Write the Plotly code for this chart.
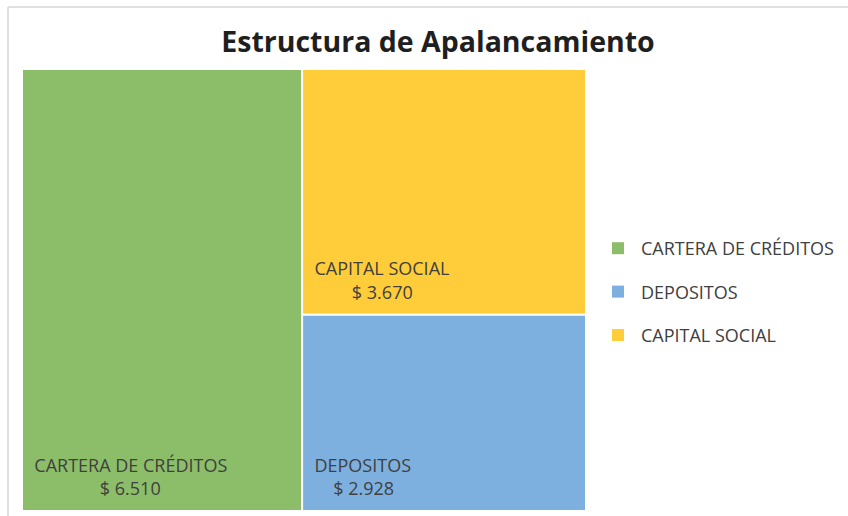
import plotly.graph_objects as go

# ---- data ----
categories = ["CARTERA DE CRÉDITOS", "DEPOSITOS", "CAPITAL SOCIAL"]
values = [6510, 2928, 3670]
title_text = "Estructura de Apalancamiento"

# ---- style ----
colors = ["#8cbe69", "#7db0df", "#ffcd3a"]
value_indent = {"CARTERA DE CRÉDITOS": 14, "DEPOSITOS": 4, "CAPITAL SOCIAL": 8}  # nbsp count

W, H = 848, 516
FONT = "Open Sans, Segoe UI, sans-serif"
TXT = "#404040"
FS = 18
NB = "\u00a0"


def template(label):
    return (NB * 2 + "%{label}<br>" + NB * (value_indent[label] + 2)
            + "$ %{value:,}" + '<span style="font-size:44px">' + NB + "</span>")


fig = go.Figure()
fig.add_trace(go.Treemap(
    labels=categories,
    parents=[""] * len(categories),
    values=values,
    sort=True,
    tiling=dict(packing="squarify", pad=0),
    marker=dict(colors=colors, line=dict(color="white", width=2),
                pad=dict(t=0, l=0, r=0, b=0)),
    pathbar=dict(visible=False),
    textposition="bottom left",
    texttemplate=[template(c) for c in categories],
    textfont=dict(family=FONT, size=FS, color=TXT),
    insidetextfont=dict(family=FONT, size=FS, color=TXT),
    hoverinfo="label+value",
    domain=dict(x=[22 / W, 586 / W], y=[1 - 511 / H, 1 - 69 / H]),
))

# legend entries
for i, (c, col) in enumerate(zip(categories, colors)):
    fig.add_trace(go.Scatter(
        x=[None], y=[None], mode="markers", name=c,
        marker=dict(symbol="square", size=12, color=col),
        legendgroup=f"g{i}", showlegend=True,
    ))

fig.update_layout(
    width=W, height=H,
    margin=dict(l=0, r=0, t=0, b=0),
    paper_bgcolor="white", plot_bgcolor="white",
    separators=",.",
    font=dict(family=FONT, color=TXT),
    title=dict(text="<b>" + title_text + "</b>", x=438 / W, xanchor="center",
               y=1 - 42 / H, yanchor="middle",
               font=dict(family=FONT, size=28.5, color="#1f1f1f")),
    xaxis=dict(visible=False), yaxis=dict(visible=False),
    legend=dict(x=595 / W, xanchor="left", y=1 - 230 / H, yanchor="top",
                font=dict(family=FONT, size=FS, color=TXT),
                tracegroupgap=17, itemwidth=36, bgcolor="rgba(0,0,0,0)"),
    shapes=[
        dict(type="line", xref="paper", yref="paper", x0=8 / W, x1=1, y0=1 - 7 / H, y1=1 - 7 / H,
             line=dict(color="#d6d6d6", width=1.5)),
        dict(type="line", xref="paper", yref="paper", x0=8 / W, x1=8 / W, y0=0, y1=1 - 7 / H,
             line=dict(color="#d6d6d6", width=1.5)),
    ],
)

fig.write_html("out.html", config={"displayModeBar": False},
               post_script="document.body.style.margin='0';")
